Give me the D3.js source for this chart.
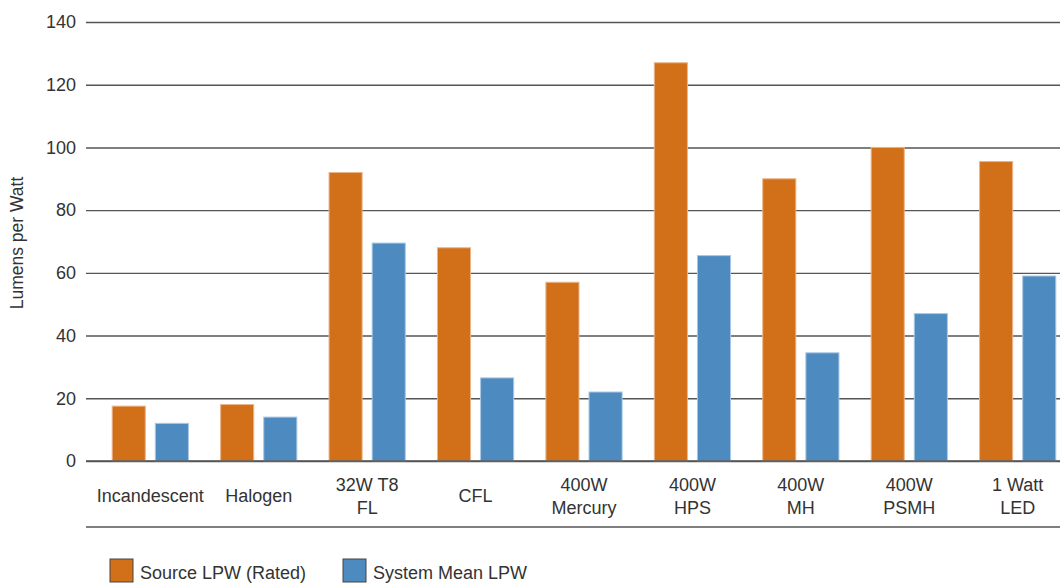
<!DOCTYPE html>
<html><head><meta charset="utf-8">
<script src="https://cdn.jsdelivr.net/npm/d3@7"></script>
<style>
body{margin:0;background:#fff;}
text{font-family:"Liberation Sans",Arial,Helvetica,sans-serif;fill:#333;}
</style></head>
<body><svg id="c" width="1060" height="584"></svg>
<script>
const categories = ["Incandescent","Halogen","32W T8\nFL","CFL","400W\nMercury","400W\nHPS","400W\nMH","400W\nPSMH","1 Watt\nLED"];
const sourceLPW = [17.5, 18, 92, 68, 57, 127, 90, 100, 95.5];
const systemLPW = [12, 14, 69.5, 26.5, 22, 65.5, 34.5, 47, 59];
const seriesNames = ["Source LPW (Rated)", "System Mean LPW"];
const seriesColors = ["#D2701A", "#4C8AC0"];
const yTicks = [0,20,40,60,80,100,120,140];
const yLabel = "Lumens per Watt";

const svg = d3.select("#c");
const gridLeft = 86, gridRight = 1060;
const y = d3.scaleLinear().domain([0,140]).range([461,22]);
const x0 = d3.scaleBand().domain(categories).range([80,1088]).padding(0.297);
const x1 = d3.scaleBand().domain([0,1]).range([0,x0.bandwidth()]).paddingInner(0.2326).paddingOuter(0);

// gridlines
const yAxis = d3.axisLeft(y).tickValues(yTicks).tickSize(-(gridRight-gridLeft)).tickPadding(10);
const ga = svg.append("g").attr("transform",`translate(${gridLeft},0)`).call(yAxis);
ga.select(".domain").remove();
ga.selectAll(".tick line").attr("stroke","#555").attr("stroke-width",1.4);
ga.selectAll(".tick text").attr("font-size",18).attr("fill","#333").style("font-family","Liberation Sans, Arial, sans-serif");

// bottom line under labels
svg.append("line").attr("x1",gridLeft).attr("x2",gridRight).attr("y1",527).attr("y2",527)
  .attr("stroke","#555").attr("stroke-width",1.4);

// bars
const data = categories.map((c,i)=>({c, vals:[sourceLPW[i], systemLPW[i]]}));
const groups = svg.append("g").selectAll("g").data(data).join("g")
  .attr("transform", d=>`translate(${x0(d.c)},0)`);
groups.selectAll("rect").data(d=>d.vals.map((v,k)=>({v,k}))).join("rect")
  .attr("x", d=>x1(d.k)).attr("width", x1.bandwidth())
  .attr("y", d=>y(d.v)).attr("height", d=>y(0)-y(d.v))
  .attr("fill", d=>seriesColors[d.k])
  .attr("stroke", d=>d.k===0?"#eab48a":"#a9c7e4").attr("stroke-width",1);

// redraw zero line on top
svg.append("line").attr("x1",gridLeft).attr("x2",gridRight).attr("y1",y(0)).attr("y2",y(0))
  .attr("stroke","#555").attr("stroke-width",1.4);

// category labels
const lab = svg.append("g").selectAll("text").data(categories).join("text")
  .attr("text-anchor","middle").attr("font-size",18)
  .attr("transform", d=>`translate(${x0(d)+x0.bandwidth()/2},0)`);
lab.each(function(d){
  const lines = d.split("\n");
  const t = d3.select(this);
  if(lines.length===1){
    t.append("tspan").attr("x",0).attr("y",502).text(lines[0]);
  } else {
    lines.forEach((l,i)=>t.append("tspan").attr("x",0).attr("y",491+i*23).text(l));
  }
});

// y label
svg.append("text").attr("transform","translate(23,243) rotate(-90)")
  .attr("text-anchor","middle").attr("font-size",17.5).text(yLabel);

// legend
const legX = [110, 343];
seriesNames.forEach((n,i)=>{
  svg.append("rect").attr("x",legX[i]).attr("y",559).attr("width",23).attr("height",23)
    .attr("fill",seriesColors[i]).attr("stroke","#444").attr("stroke-width",1);
  svg.append("text").attr("x",legX[i]+30).attr("y",579).attr("font-size",18).text(n);
});
</script></body></html>
